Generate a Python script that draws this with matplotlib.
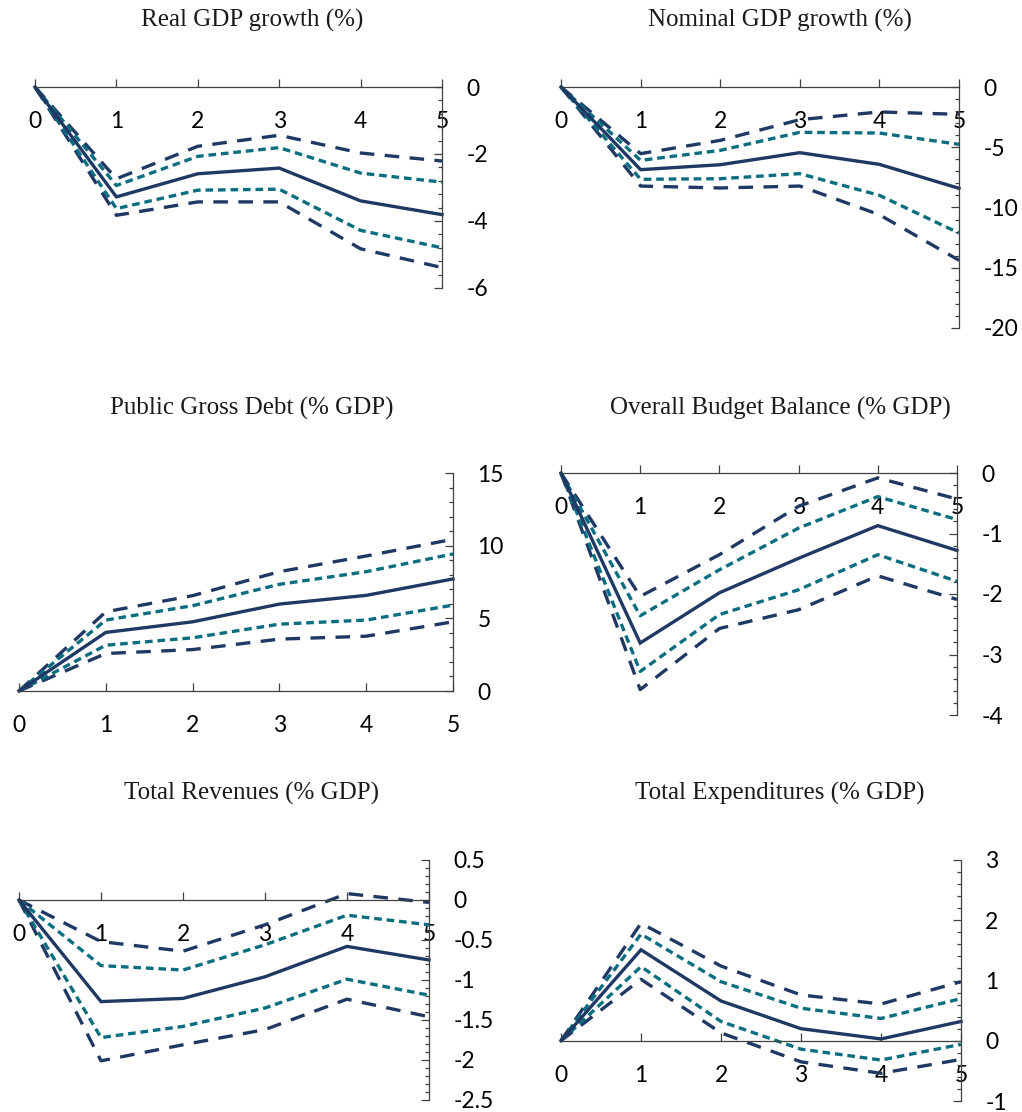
import numpy as np
import matplotlib
matplotlib.use("Agg")
import matplotlib.pyplot as plt
from matplotlib.ticker import MultipleLocator, FuncFormatter

# horizon (years)
years = [0, 1, 2, 3, 4, 5]

titles = ["Real GDP growth (%)", "Nominal GDP growth (%)",
          "Public Gross Debt (% GDP)", "Overall Budget Balance (% GDP)",
          "Total Revenues (% GDP)", "Total Expenditures (% GDP)"]

# Real GDP growth
rgdp_med = [0, -3.28, -2.59, -2.42, -3.40, -3.81]
rgdp_hi90 = [0, -2.74, -1.77, -1.44, -1.97, -2.21]
rgdp_hi68 = [0, -2.94, -2.07, -1.81, -2.57, -2.84]
rgdp_lo68 = [0, -3.63, -3.08, -3.05, -4.28, -4.80]
rgdp_lo90 = [0, -3.83, -3.43, -3.43, -4.83, -5.39]

# Nominal GDP growth
ngdp_med = [0, -6.86, -6.45, -5.45, -6.42, -8.41]
ngdp_hi90 = [0, -5.53, -4.43, -2.71, -2.07, -2.27]
ngdp_hi68 = [0, -6.09, -5.26, -3.76, -3.82, -4.76]
ngdp_lo68 = [0, -7.66, -7.61, -7.19, -8.99, -12.12]
ngdp_lo90 = [0, -8.22, -8.38, -8.22, -10.6, -14.38]

# Public gross debt
debt_med = [0, 4.03, 4.76, 5.98, 6.58, 7.71]
debt_hi90 = [0, 5.45, 6.56, 8.21, 9.29, 10.44]
debt_hi68 = [0, 4.88, 5.87, 7.34, 8.21, 9.43]
debt_lo68 = [0, 3.15, 3.66, 4.60, 4.88, 5.91]
debt_lo90 = [0, 2.58, 2.85, 3.57, 3.77, 4.76]

# Overall budget balance
bal_med = [0, -2.81, -1.98, -1.41, -0.87, -1.28]
bal_hi90 = [0, -2.04, -1.35, -0.55, -0.08, -0.43]
bal_hi68 = [0, -2.36, -1.60, -0.91, -0.39, -0.77]
bal_lo68 = [0, -3.28, -2.34, -1.93, -1.35, -1.79]
bal_lo90 = [0, -3.58, -2.57, -2.26, -1.70, -2.09]

# Total revenues
rev_med = [0, -1.27, -1.23, -0.96, -0.58, -0.75]
rev_hi90 = [0, -0.52, -0.64, -0.31, 0.08, -0.03]
rev_hi68 = [0, -0.82, -0.875, -0.56, -0.19, -0.31]
rev_lo68 = [0, -1.72, -1.58, -1.35, -0.99, -1.19]
rev_lo90 = [0, -2.01, -1.81, -1.62, -1.24, -1.46]

# Total expenditures
exp_med = [0, 1.51, 0.66, 0.20, 0.03, 0.32]
exp_hi90 = [0, 1.95, 1.24, 0.76, 0.61, 0.98]
exp_hi68 = [0, 1.77, 0.98, 0.54, 0.37, 0.70]
exp_lo68 = [0, 1.23, 0.32, -0.14, -0.32, -0.06]
exp_lo90 = [0, 1.02, 0.13, -0.35, -0.54, -0.31]

series = [
    (rgdp_med, rgdp_hi90, rgdp_hi68, rgdp_lo68, rgdp_lo90),
    (ngdp_med, ngdp_hi90, ngdp_hi68, ngdp_lo68, ngdp_lo90),
    (debt_med, debt_hi90, debt_hi68, debt_lo68, debt_lo90),
    (bal_med, bal_hi90, bal_hi68, bal_lo68, bal_lo90),
    (rev_med, rev_hi90, rev_hi68, rev_lo68, rev_lo90),
    (exp_med, exp_hi90, exp_hi68, exp_lo68, exp_lo90),
]

# y limits, major step, minor step
ylims = [(-6, 0), (-20, 0), (0, 15), (-4, 0), (-2.5, 0.5), (-1, 3)]
ysteps = [(2, 0.4), (5, 1), (5, 1), (1, 0.2), (0.5, 0.1), (1, 0.2)]

# axes boxes in pixels: x at 0, x at 5, y top, y bottom
W, H = 1022, 1112
boxes = [(35, 442, 87, 288), (561, 959, 87, 328),
         (19, 453, 473, 691), (561, 957, 473, 715),
         (19, 429, 860, 1100), (561, 961, 860, 1101)]
title_pos = [(252, 20), (780, 20), (252, 408), (780, 408), (252, 793), (780, 793)]

navy = "#1f3864"
teal = "#0a6e80"
axcol = "#404040"

plt.rcParams['axes.unicode_minus'] = False
plt.rcParams['lines.scale_dashes'] = False
plt.rcParams['font.family'] = ['Lato', 'DejaVu Sans']

fig = plt.figure(figsize=(W / 100, H / 100), dpi=100)

for i in range(6):
    x0, x5, yt, yb = boxes[i]
    ax = fig.add_axes([x0 / W, 1 - yb / H, (x5 - x0) / W, (yb - yt) / H])
    med, hi90, hi68, lo68, lo90 = series[i]

    for s in (hi90, lo90):
        ax.plot(years, s, color=navy, lw=2.4, dashes=(10.5, 7.5), clip_on=False)
    for s in (hi68, lo68):
        ax.plot(years, s, color=teal, lw=2.4, dashes=(5.5, 3.5), clip_on=False)
    ax.plot(years, med, color=navy, lw=2.4, clip_on=False, solid_joinstyle='miter')

    ax.set_xlim(0, 5)
    ax.set_ylim(*ylims[i])

    ax.spines['top'].set_visible(False)
    ax.spines['left'].set_visible(False)
    ax.spines['bottom'].set_position(('data', 0))
    for sp in ('bottom', 'right'):
        ax.spines[sp].set_color(axcol)
        ax.spines[sp].set_linewidth(0.9)

    ax.xaxis.set_major_locator(MultipleLocator(1))
    ax.tick_params(axis='x', direction='in', length=6, width=0.9, color=axcol,
                   pad=17.5, labelsize=16.5, top=False)

    ax.yaxis.tick_right()
    ax.yaxis.set_major_locator(MultipleLocator(ysteps[i][0]))
    ax.yaxis.set_minor_locator(MultipleLocator(ysteps[i][1]))
    ax.yaxis.set_major_formatter(FuncFormatter(lambda v, p: '{:g}'.format(round(v, 2))))
    ax.tick_params(axis='y', which='major', direction='in', length=5.5, width=0.9,
                   color=axcol, pad=17.5, labelsize=16.5)
    ax.tick_params(axis='y', which='minor', direction='in', length=3, width=0.9,
                   color=axcol)
    ax.patch.set_visible(False)

    tx, ty = title_pos[i]
    fig.text(tx / W, 1 - ty / H, titles[i], ha='center', va='center',
             fontsize=18, family='Liberation Serif', color='#1a1a1a')

fig.savefig("out.png", dpi=100)
